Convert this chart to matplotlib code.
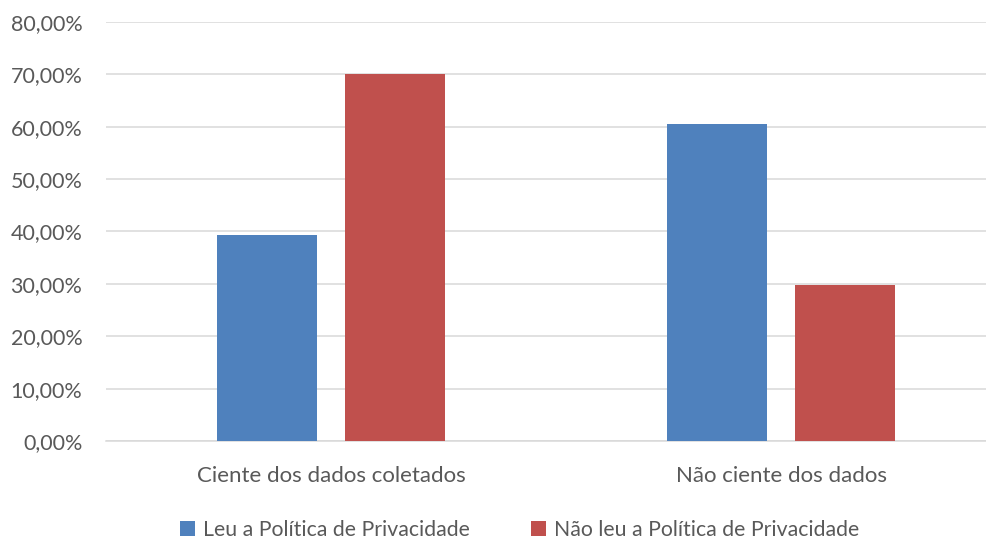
import numpy as np
import matplotlib
matplotlib.use("Agg")
import matplotlib.pyplot as plt
from matplotlib.ticker import FuncFormatter

plt.rcParams['font.family'] = ['Lato', 'DejaVu Sans']

categorias = ['Ciente dos dados coletados', 'Não ciente dos dados']
series = ['Leu a Política de Privacidade', 'Não leu a Política de Privacidade']
leu = [39.39, 60.61]
nao_leu = [70.0, 29.8]
cores = ['#4F81BD', '#C0504D']
cinza = '#595959'

fig = plt.figure(figsize=(9.86, 5.42), dpi=100)
ax = fig.add_axes([106/986, 101/542, 900/986, 419/542])

x = np.arange(len(categorias))
w = 0.222
off = 0.142
ax.bar(x - off, leu, w, color=cores[0], label=series[0], zorder=3)
ax.bar(x + off, nao_leu, w, color=cores[1], label=series[1], zorder=3)

ax.set_xlim(-0.5, 1.5)
ax.set_ylim(0, 80)
ax.set_yticks(np.arange(0, 81, 10))
ax.yaxis.set_major_formatter(FuncFormatter(lambda v, p: f"{v:.2f}%".replace('.', ',')))
ax.set_xticks(x)
ax.set_xticklabels(categorias, fontsize=16)
ax.grid(axis='y', color='#d9d9d9', linewidth=1.1, zorder=0)
for s in ['top', 'right', 'left']:
    ax.spines[s].set_visible(False)
ax.spines['bottom'].set_color('#d9d9d9')
ax.spines['bottom'].set_linewidth(1.1)
ax.tick_params(axis='both', length=0, colors=cinza)
ax.tick_params(axis='y', pad=17, labelsize=15.5)
ax.tick_params(axis='x', pad=18)

fig.legend(loc='center', bbox_to_anchor=(0.527, 0.022), ncol=2, frameon=False,
           handlelength=0.7, handleheight=0.7, handletextpad=0.35,
           columnspacing=2.9, fontsize=15.3, labelcolor=cinza)

fig.savefig('out.png', dpi=100)
